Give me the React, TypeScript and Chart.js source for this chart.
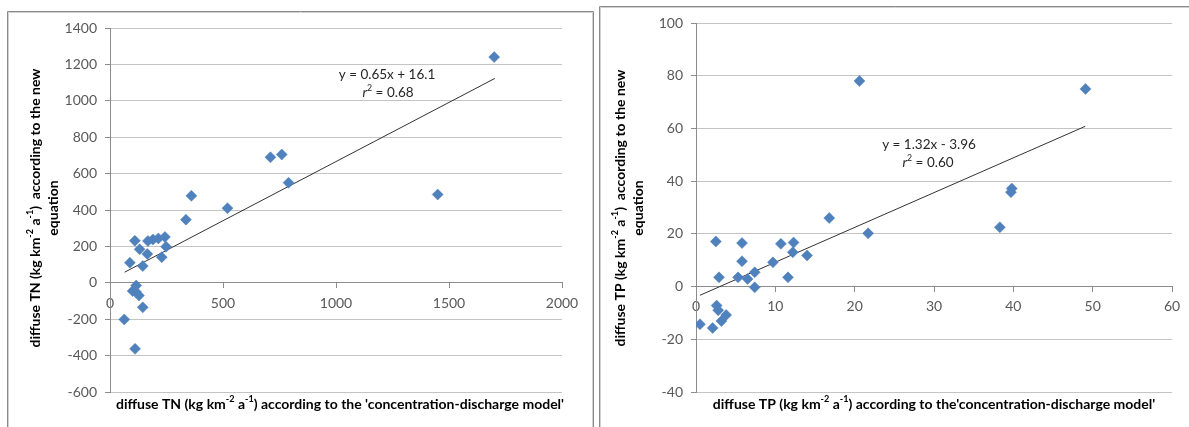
import React, { useEffect, useRef } from "react";
import { Chart, registerables } from "chart.js";

Chart.register(...registerables);

// ---------- DATA ----------
// Left panel: diffuse TN
const TN_X = [1700, 760, 710, 790, 1450, 360, 520, 336, 110, 168, 190, 214, 243, 248, 131, 165, 229, 88, 145, 116, 100, 115, 128, 145, 63, 111];
const TN_Y = [1240, 705, 690, 550, 485, 478, 410, 347, 231, 230, 238, 244, 252, 198, 184, 158, 141, 110, 92, -15, -45, -50, -70, -135, -201, -363];
const TN_FIT = { slope: 0.65, intercept: 16.1, from: 65, to: 1703 };
const TN_EQ = "y = 0.65x + 16.1";
const TN_R2 = " = 0.68";

// Right panel: diffuse TP
const TP_X = [20.6, 49.1, 39.8, 39.7, 38.3, 16.8, 21.7, 2.5, 5.8, 5.8, 2.9, 5.3, 6.5, 7.4, 7.4, 9.7, 10.7, 12.3, 12.2, 11.6, 14.0, 0.5, 2.1, 2.6, 2.8, 3.8, 3.2];
const TP_Y = [78, 75, 37.2, 35.8, 22.5, 26, 20.2, 17.1, 16.5, 9.6, 3.5, 3.5, 2.9, 5.4, -0.3, 9.2, 16.2, 16.7, 13.0, 3.5, 11.8, -14.3, -15.7, -7.2, -9.0, -10.8, -13.1];
const TP_FIT = { slope: 1.32, intercept: -3.96, from: 0.5, to: 49.07 };
const TP_EQ = "y = 1.32x - 3.96";
const TP_R2 = " = 0.60";

// Axis ranges
const TN_X_AXIS = { min: 0, max: 2000, step: 500 };
const TN_Y_AXIS = { min: -600, max: 1400, step: 200 };
const TP_X_AXIS = { min: 0, max: 60, step: 10 };
const TP_Y_AXIS = { min: -40, max: 100, step: 20 };

const TN_YTITLE_1 = ["diffuse TN (kg km", "-2", " a", "-1", ")  according to the new"];
const TN_XTITLE = ["diffuse TN (kg km", "-2", " a", "-1", ") according to the 'concentration-discharge model'"];
const TP_YTITLE_1 = ["diffuse TP (kg km", "-2", " a", "-1", ")  according to the new"];
const TP_XTITLE = ["diffuse TP (kg km", "-2", " a", "-1", ") according to the'concentration-discharge model'"];
const YTITLE_2 = "equation";

// ---------- STYLE ----------
const FONT = "Lato, 'Open Sans', sans-serif";
const BLUE = "#4F81BD";
const GRID = "#C4C4C4";
const AXIS = "#8C8C8C";
const TICK_COLOR = "#595959";
const TITLE_SIZE = 14;
const TICK_SIZE = 14;
const ANN_SIZE = 13.5;

type Seg = { t: string; sup?: boolean; it?: boolean };

function toSegs(parts: string[]): Seg[] {
  // odd indices are superscripts
  return parts.map((t, i) => ({ t, sup: i % 2 === 1 }));
}

function drawRich(
  ctx: CanvasRenderingContext2D,
  segs: Seg[],
  cx: number,
  cy: number,
  size: number,
  bold: boolean,
  color: string,
  rotate: boolean
) {
  ctx.save();
  ctx.translate(cx, cy);
  if (rotate) ctx.rotate(-Math.PI / 2);
  const fontFor = (s: Seg) =>
    `${s.it ? "italic " : ""}${bold ? "bold " : ""}${s.sup ? size * 0.65 : size}px ${FONT}`;
  const widths = segs.map((s) => {
    ctx.font = fontFor(s);
    return ctx.measureText(s.t).width;
  });
  const total = widths.reduce((a, b) => a + b, 0);
  let x = -total / 2;
  ctx.textBaseline = "middle";
  ctx.textAlign = "left";
  ctx.fillStyle = color;
  segs.forEach((s, i) => {
    ctx.font = fontFor(s);
    ctx.fillText(s.t, x, s.sup ? -size * 0.33 : 0);
    x += widths[i];
  });
  ctx.restore();
}

type PanelCfg = {
  xs: number[];
  ys: number[];
  fit: { slope: number; intercept: number; from: number; to: number };
  eq: string;
  r2: string;
  xAxis: { min: number; max: number; step: number };
  yAxis: { min: number; max: number; step: number };
  yTitle1: string[];
  xTitle: string[];
  width: number;
  height: number;
  plotLeft: number;
  plotTop: number;
  plotRight: number;
  plotBottom: number;
  border: { left: number; top: number; right: number | null };
  yTitleX: [number, number];
  yTitleY: number;
  xTitleX: number;
  xTitleY: number;
  eqX: number;
  eqY: number;
  r2X: number;
  r2Y: number;
};

function makeChart(canvas: HTMLCanvasElement, p: PanelCfg) {
  const points = p.xs.map((x, i) => ({ x, y: p.ys[i] }));
  const fitLine = [
    { x: p.fit.from, y: p.fit.slope * p.fit.from + p.fit.intercept },
    { x: p.fit.to, y: p.fit.slope * p.fit.to + p.fit.intercept },
  ];

  const decor = {
    id: "decor",
    beforeDraw(chart: any) {
      const ctx = chart.ctx as CanvasRenderingContext2D;
      ctx.save();
      ctx.fillStyle = "#FFFFFF";
      ctx.fillRect(0, 0, p.width, p.height);
      const b = p.border;
      const right = b.right === null ? p.width + 10 : b.right;
      ctx.strokeStyle = "#D0D0D0";
      ctx.lineWidth = 1;
      ctx.beginPath();
      ctx.moveTo(b.left + 1.5, p.height + 10);
      ctx.lineTo(b.left + 1.5, b.top + 1.5);
      ctx.lineTo(right - 0.5, b.top + 1.5);
      if (b.right !== null) ctx.lineTo(right - 0.5, p.height + 10);
      ctx.stroke();
      ctx.strokeStyle = "#8A8A8A";
      ctx.beginPath();
      ctx.moveTo(b.left + 0.5, p.height + 10);
      ctx.lineTo(b.left + 0.5, b.top + 0.5);
      ctx.lineTo(right + 0.5, b.top + 0.5);
      if (b.right !== null) ctx.lineTo(right + 0.5, p.height + 10);
      ctx.stroke();
      ctx.restore();
    },
    afterDraw(chart: any) {
      const ctx = chart.ctx as CanvasRenderingContext2D;
      drawRich(ctx, toSegs(p.yTitle1), p.yTitleX[0], p.yTitleY, TITLE_SIZE, true, "#000", true);
      drawRich(ctx, [{ t: YTITLE_2 }], p.yTitleX[1], p.yTitleY, TITLE_SIZE, true, "#000", true);
      drawRich(ctx, toSegs(p.xTitle), p.xTitleX, p.xTitleY, TITLE_SIZE, true, "#000", false);
      drawRich(ctx, [{ t: p.eq }], p.eqX, p.eqY, ANN_SIZE, false, "#262626", false);
      drawRich(
        ctx,
        [{ t: "r", it: true }, { t: "2", sup: true }, { t: p.r2 }],
        p.r2X,
        p.r2Y,
        ANN_SIZE,
        false,
        "#262626",
        false
      );
    },
  };

  const fmt = (v: any) => String(v);

  return new Chart(canvas, {
    type: "scatter",
    data: {
      datasets: [
        {
          type: "scatter",
          data: points,
          pointStyle: "rectRot",
          pointRadius: 5.5,
          pointHoverRadius: 5.5,
          backgroundColor: BLUE,
          borderColor: BLUE,
          borderWidth: 0.5,
          order: 1,
        },
        {
          type: "line",
          data: fitLine,
          borderColor: "#333333",
          borderWidth: 1,
          pointRadius: 0,
          fill: false,
          order: 2,
        } as any,
      ],
    },
    options: {
      responsive: false,
      maintainAspectRatio: false,
      animation: false,
      devicePixelRatio: 1,
      events: [],
      layout: {
        padding: {
          left: 0,
          top: p.plotTop,
          right: p.width - p.plotRight,
          bottom: p.height - p.plotBottom,
        },
      },
      plugins: {
        legend: { display: false },
        tooltip: { enabled: false },
        title: { display: false },
      },
      scales: {
        x: {
          type: "linear",
          position: { y: 0 } as any,
          min: p.xAxis.min,
          max: p.xAxis.max,
          ticks: {
            stepSize: p.xAxis.step,
            color: TICK_COLOR,
            font: { family: FONT, size: TICK_SIZE },
            padding: 7,
            maxRotation: 0,
            autoSkip: false,
            callback: fmt,
          },
          grid: {
            display: true,
            drawOnChartArea: false,
            drawTicks: true,
            tickLength: 5,
            color: AXIS,
          },
          border: { display: true, color: AXIS, width: 1 },
        },
        y: {
          type: "linear",
          position: "left",
          min: p.yAxis.min,
          max: p.yAxis.max,
          afterFit: (scale: any) => {
            scale.width = p.plotLeft;
          },
          ticks: {
            stepSize: p.yAxis.step,
            color: TICK_COLOR,
            font: { family: FONT, size: TICK_SIZE },
            padding: 8,
            autoSkip: false,
            callback: fmt,
          },
          grid: {
            display: true,
            drawOnChartArea: true,
            drawTicks: true,
            tickLength: 5,
            color: GRID,
            tickColor: AXIS,
          },
          border: { display: true, color: AXIS, width: 1 },
        },
      },
    },
    plugins: [decor],
  } as any);
}

const LEFT_W = 594;
const RIGHT_W = 595;
const H = 427;

const LEFT: PanelCfg = {
  xs: TN_X,
  ys: TN_Y,
  fit: TN_FIT,
  eq: TN_EQ,
  r2: TN_R2,
  xAxis: TN_X_AXIS,
  yAxis: TN_Y_AXIS,
  yTitle1: TN_YTITLE_1,
  xTitle: TN_XTITLE,
  width: LEFT_W,
  height: H,
  plotLeft: 110,
  plotTop: 28,
  plotRight: 562,
  plotBottom: 392,
  border: { left: 7, top: 11, right: 593 },
  yTitleX: [35, 53],
  yTitleY: 208,
  xTitleX: 340,
  xTitleY: 404,
  eqX: 387,
  eqY: 75,
  r2X: 388,
  r2Y: 93,
};

const RIGHT: PanelCfg = {
  xs: TP_X,
  ys: TP_Y,
  fit: TP_FIT,
  eq: TP_EQ,
  r2: TP_R2,
  xAxis: TP_X_AXIS,
  yAxis: TP_Y_AXIS,
  yTitle1: TP_YTITLE_1,
  xTitle: TP_XTITLE,
  width: RIGHT_W,
  height: H,
  plotLeft: 102,
  plotTop: 23,
  plotRight: 578,
  plotBottom: 392,
  border: { left: 5, top: 6, right: null },
  yTitleX: [26, 44],
  yTitleY: 208,
  xTitleX: 340,
  xTitleY: 404,
  eqX: 335,
  eqY: 145,
  r2X: 334,
  r2Y: 163,
};

function Panel({ cfg, left }: { cfg: PanelCfg; left: number }) {
  const ref = useRef<HTMLCanvasElement | null>(null);
  useEffect(() => {
    if (!ref.current) return;
    const chart = makeChart(ref.current, cfg);
    return () => chart.destroy();
  }, [cfg]);
  return (
    <canvas
      ref={ref}
      width={cfg.width}
      height={cfg.height}
      style={{ position: "absolute", left, top: 0, width: cfg.width, height: cfg.height }}
    />
  );
}

export default function App() {
  return (
    <div
      style={{
        position: "fixed",
        left: 0,
        top: 0,
        width: 1189,
        height: 427,
        background: "#FFFFFF",
        overflow: "hidden",
      }}
    >
      <Panel cfg={LEFT} left={0} />
      <Panel cfg={RIGHT} left={594} />
    </div>
  );
}
